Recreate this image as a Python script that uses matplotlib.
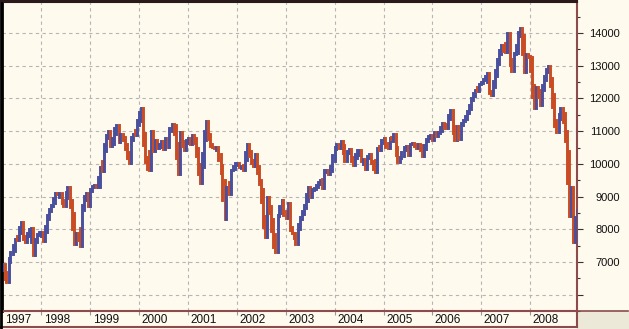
import numpy as np
import pandas as pd
import matplotlib
matplotlib.use("Agg")
import matplotlib.pyplot as plt
import matplotlib.dates as mdates
from matplotlib.lines import Line2D
from matplotlib.patches import Rectangle
from matplotlib.transforms import offset_copy

# Dow Jones closes, two per month (mid-month, month end), Mar 1997 - Dec 2008
dj_1997 = [6950, 6584, 6400, 7009, 7250, 7331, 7700, 7672, 7900, 8222, 7800, 7622,
           7800, 7945, 8050, 7200, 7600, 7823, 7900, 7908]
dj_1998 = [7650, 7907, 8300, 8546, 8700, 8800, 9100, 9064, 9100, 8900, 8700, 8952,
           9300, 8883, 8500, 7539, 7900, 7843, 7500, 8592, 8900, 9116, 8700, 9181]
dj_1999 = [9300, 9359, 9300, 9306, 9900, 9786, 10400, 10789, 11000, 10560, 10600, 10970,
           11200, 10655, 10900, 10829, 10600, 10337, 10019, 10729, 10900, 10878, 11200, 11497]
dj_2000 = [11700, 10940, 10200, 9900, 9800, 11000, 10400, 10734, 10500, 10522, 10700, 10448,
           10800, 10522, 11000, 11215, 11200, 10651, 9700, 10971, 10700, 10415, 10650, 10788]
dj_2001 = [10600, 10887, 10800, 10495, 10000, 9400, 9900, 10735, 11300, 10912, 10600, 10502,
           10500, 10523, 10300, 9950, 9500, 8300, 9300, 9075, 9800, 9852, 10000, 10022]
dj_2002 = [9900, 9920, 9800, 10106, 10600, 10404, 10100, 9946, 10300, 9925, 9500, 9243,
           8400, 7750, 9000, 8700, 8300, 7592, 7300, 8397, 8500, 8896, 8500, 8342]
dj_2003 = [8800, 8054, 7900, 7891, 7550, 8000, 8300, 8480, 8650, 8850, 9300, 8985,
           9200, 9233, 9300, 9415, 9500, 9275, 9800, 9801, 9700, 9782, 10100, 10453]
dj_2004 = [10600, 10488, 10700, 10584, 10100, 10357, 10450, 10225, 9950, 10188, 10400, 10435,
           10100, 10140, 9850, 10173, 10300, 10080, 9950, 9760, 10500, 10428, 10650, 10783]
dj_2005 = [10550, 10490, 10800, 10766, 10900, 10504, 10050, 10192, 10250, 10467, 10550, 10275,
           10600, 10641, 10600, 10482, 10600, 10569, 10250, 10440, 10700, 10806, 10880, 10718]
dj_2006 = [10960, 10865, 10950, 11000, 11250, 11109, 11100, 11367, 11640, 11168, 10720, 11150,
           10750, 11186, 11300, 11381, 11550, 11679, 11950, 12081, 12250, 12221, 12450, 12463]
dj_2007 = [12550, 12622, 12780, 12216, 12100, 12354, 12700, 13063, 13350, 13628, 13500, 13409,
           14000, 13212, 12850, 13358, 13400, 13896, 14150, 13930, 12800, 13372, 13300, 13265]
dj_2008 = [12400, 11700, 12350, 12266, 11800, 12263, 12550, 12820, 13000, 12638, 12150, 11350,
           10960, 11378, 11700, 11544, 11000, 10400, 8400, 9300, 7600, 8150, 8600]

years = list(range(1997, 2009))
yticks = list(range(6000, 15000, 1000))

closes = np.array(dj_1997 + dj_1998 + dj_1999 + dj_2000 + dj_2001 + dj_2002 + dj_2003
                  + dj_2004 + dj_2005 + dj_2006 + dj_2007 + dj_2008, dtype=float)
dates = pd.date_range("1997-03-15", periods=len(closes), freq="SMS")
opens = np.concatenate([[closes[0]], closes[:-1]])
nexts = np.concatenate([closes[1:], [closes[-1]]])
# bar range: from the previous close through this close, reaching half way to the next one
lows = np.minimum.reduce([opens, closes, (closes + nexts) / 2])
highs = np.maximum.reduce([opens, closes, (closes + nexts) / 2])
up = closes >= opens
cols = np.where(up, "#4a4f9e", "#c94c24")

W, H = 629, 329
bg = "#fffaee"
maroon = "#8e4b4b"


def fx(x):
    return x / W


def fy(y):
    return 1 - y / H


fig = plt.figure(figsize=(W / 100, H / 100), dpi=100, facecolor=bg)
plt.rcParams["font.family"] = ["Liberation Sans", "DejaVu Sans"]

ax = fig.add_axes([fx(2), fy(311), fx(577) - fx(2), fy(2) - fy(311)])
ax.set_facecolor(bg)

ax.vlines(mdates.date2num(dates), lows, highs, colors=cols, linewidth=2.1,
          capstyle="projecting", zorder=3)

ax.set_xlim(pd.Timestamp("1997-03-13"), pd.Timestamp("2008-12-17"))
ax.set_ylim(5575, 14950)

# axes, ticks
ax.yaxis.tick_right()
ax.set_yticks(yticks)
ax.set_yticklabels([""] + [str(v) for v in yticks[1:]])
ax.set_yticks(np.arange(5500, 15000, 500), minor=True)
ax.tick_params(axis="y", which="major", length=4.3, width=0.8, color="#333333",
               labelsize=8, pad=26.5, labelcolor="#111111")
ax.tick_params(axis="y", which="minor", length=2.2, width=0.8, color="#333333")
for lab in ax.get_yticklabels():
    lab.set_ha("right")

xt = [pd.Timestamp(f"{y}-01-01") for y in years[1:]]
ax.set_xticks(xt)
ax.tick_params(axis="x", which="major", length=3, width=0.8, color="#999999",
               labelbottom=False)

ax.grid(True, which="major", color="#b5b5b5", linestyle=(0, (3, 3)), linewidth=0.8)
ax.set_axisbelow(True)

ax.spines["left"].set_color("black")
ax.spines["left"].set_linewidth(2)
ax.spines["top"].set_color("#2a1a1a")
ax.spines["top"].set_linewidth(1.5)
ax.spines["right"].set_color(maroon)
ax.spines["right"].set_linewidth(1.5)
ax.spines["bottom"].set_color(maroon)
ax.spines["bottom"].set_linewidth(1.5)

# year labels under the plot
ytrans = offset_copy(ax.get_xaxis_transform(), fig=fig, x=2.5, y=0, units="dots")
for y, t in zip(years[1:], xt):
    ax.text(t, -(320 - 311) / 309, str(y), transform=ytrans, ha="left", va="center",
            fontsize=8.5, color="#111111", clip_on=False)
fig.text(fx(5), fy(320), str(years[0]), ha="left", va="center", fontsize=8.5, color="#111111")

# frame pieces around the label band and the price panel
fig.add_artist(Rectangle((fx(577), 0), 1 - fx(577), fy(311), transform=fig.transFigure,
                         facecolor="#ece9d8", edgecolor="none", zorder=0))
fig.add_artist(Line2D([fx(0), fx(577)], [fy(327), fy(327)], color=maroon, lw=1.5))
fig.add_artist(Line2D([fx(577), fx(577)], [fy(311), fy(327)], color=maroon, lw=1.5))
fig.add_artist(Line2D([fx(577), fx(628)], [fy(310.5), fy(310.5)], color=maroon, lw=1.2))
fig.add_artist(Line2D([fx(1), fx(1)], [fy(0), fy(329)], color="black", lw=2))
fig.add_artist(Line2D([fx(0), fx(577)], [fy(0.5), fy(0.5)], color="#2a1a1a", lw=1.5))

fig.savefig("out.png", dpi=100, facecolor=bg)
